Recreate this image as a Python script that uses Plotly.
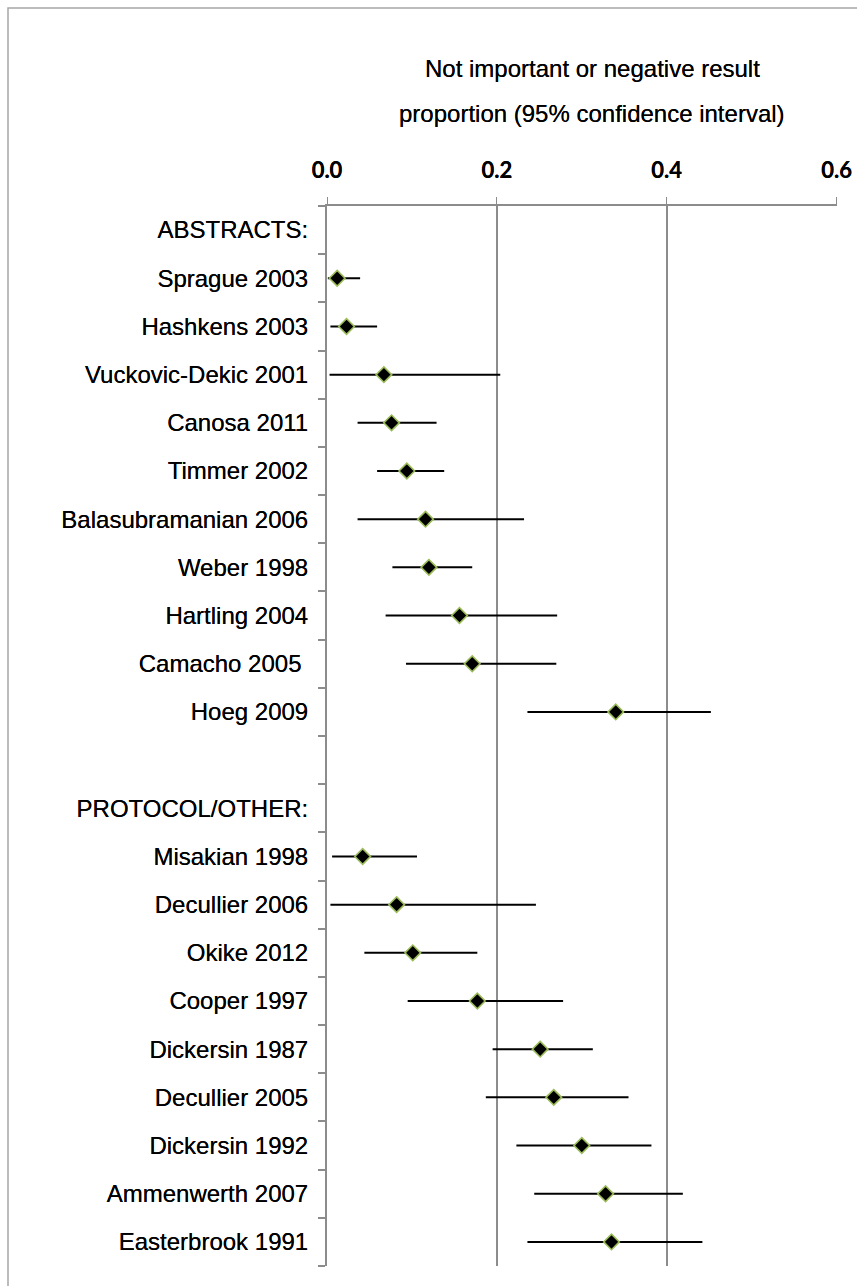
import plotly.graph_objects as go

# Row labels, top to bottom ("" is the empty spacer row)
row_labels = ["ABSTRACTS:", "Sprague 2003", "Hashkens 2003", "Vuckovic-Dekic 2001",
              "Canosa 2011", "Timmer 2002", "Balasubramanian 2006", "Weber 1998",
              "Hartling 2004", "Camacho 2005\u00a0", "Hoeg 2009", "",
              "PROTOCOL/OTHER:", "Misakian 1998", "Decullier 2006", "Okike 2012",
              "Cooper 1997", "Dickersin 1987", "Decullier 2005", "Dickersin 1992",
              "Ammenwerth 2007", "Easterbrook 1991"]

studies = ["Sprague 2003", "Hashkens 2003", "Vuckovic-Dekic 2001", "Canosa 2011",
           "Timmer 2002", "Balasubramanian 2006", "Weber 1998", "Hartling 2004",
           "Camacho 2005\u00a0", "Hoeg 2009",
           "Misakian 1998", "Decullier 2006", "Okike 2012", "Cooper 1997",
           "Dickersin 1987", "Decullier 2005", "Dickersin 1992", "Ammenwerth 2007",
           "Easterbrook 1991"]
proportion = [0.012, 0.023, 0.067, 0.076, 0.094, 0.116, 0.120, 0.156, 0.171, 0.340,
              0.042, 0.082, 0.101, 0.177, 0.251, 0.267, 0.300, 0.328, 0.335]
ci_low = [0.001, 0.004, 0.003, 0.036, 0.059, 0.036, 0.077, 0.069, 0.093, 0.236,
          0.006, 0.004, 0.044, 0.095, 0.195, 0.187, 0.223, 0.244, 0.236]
ci_high = [0.039, 0.059, 0.204, 0.129, 0.138, 0.232, 0.171, 0.271, 0.270, 0.452,
           0.106, 0.246, 0.177, 0.278, 0.313, 0.355, 0.382, 0.419, 0.442]

x_ticks = [0.0, 0.2, 0.4, 0.6]
x_ticktext = ["<b>0.0</b>", "<b>0.2</b>", "<b>0.4</b>", "<b>0.6</b>"]

title_lines = ["Not important or negative result",
               "proportion (95% confidence interval)"]

row_pos = list(range(len(row_labels)))
y_vals = [row_labels.index(s) for s in studies]
err_plus = [h - p for h, p in zip(ci_high, proportion)]
err_minus = [p - l for p, l in zip(proportion, ci_low)]

AXIS_GRAY = "#8c8c8c"
TEXT_FONT = "Liberation Sans, Arial"
TEXT_SHADOW = "0px 0px 0.6px rgba(0,0,0,0.9)"

# full-window figure; the page margin is removed after plotting
W, H = 857, 1286
ML, MR, MT, MB = 327, 20, 206, 20
PW, PH = W - ML - MR, H - MT - MB

fig = go.Figure()
fig.add_trace(go.Scatter(
    x=proportion, y=y_vals, mode="markers",
    marker=dict(symbol="diamond", size=12, color="black",
                line=dict(color="#9bbb59", width=1.6)),
    error_x=dict(type="data", symmetric=False, array=err_plus, arrayminus=err_minus,
                 color="black", thickness=2, width=0),
    showlegend=False, hoverinfo="skip",
))

fig.update_layout(
    width=W, height=H,
    margin=dict(l=ML, r=MR, t=MT, b=MB, autoexpand=False),
    paper_bgcolor="white", plot_bgcolor="white",
    xaxis=dict(
        side="top", range=[0, 0.6005], tickvals=x_ticks, ticktext=x_ticktext,
        showgrid=True, gridcolor=AXIS_GRAY, gridwidth=1.5,
        showline=True, linecolor=AXIS_GRAY, linewidth=1.5,
        ticks="outside", ticklen=7, tickcolor=AXIS_GRAY, tickwidth=1,
        ticklabelstandoff=10, ticklabeloverflow="allow",
        tickfont=dict(family="Lato", size=22, color="black", shadow=TEXT_SHADOW),
        zeroline=False, fixedrange=True, automargin=False,
    ),
    yaxis=dict(
        range=[len(row_labels) - 0.5, -0.5], tickvals=row_pos, ticktext=row_labels,
        showgrid=False, zeroline=False,
        showline=True, linecolor=AXIS_GRAY, linewidth=2,
        ticks="outside", ticklen=7, tickcolor="rgba(0,0,0,0)",
        ticklabelstandoff=5,
        minor=dict(ticks="outside", tick0=-0.5, dtick=1, ticklen=7,
                   tickcolor=AXIS_GRAY, tickwidth=1.5, showgrid=False),
        tickfont=dict(family=TEXT_FONT, size=24, color="black", shadow=TEXT_SHADOW),
        fixedrange=True, automargin=False,
    ),
    annotations=[
        dict(text=title_lines[0], xref="paper", yref="paper", x=0.52, y=1.130,
             xanchor="center", yanchor="middle", showarrow=False,
             font=dict(family=TEXT_FONT, size=24, color="black", shadow=TEXT_SHADOW)),
        dict(text=title_lines[1], xref="paper", yref="paper", x=0.52, y=1.0868,
             xanchor="center", yanchor="middle", showarrow=False,
             font=dict(family=TEXT_FONT, size=24, color="black", shadow=TEXT_SHADOW)),
    ],
    shapes=[
        dict(type="rect", xref="paper", yref="paper",
             x0=-(ML - 8) / PW, x1=(W - ML + 10) / PW,
             y0=-0.05, y1=(PH + MT - 8) / PH,
             line=dict(color="#a6a6a6", width=1.5), fillcolor="rgba(0,0,0,0)",
             layer="below"),
    ],
)

fig.write_html(
    "out.html",
    config={"displayModeBar": False},
    post_script=("document.body.style.margin='0';"
                 "document.documentElement.style.overflow='hidden';"),
)
